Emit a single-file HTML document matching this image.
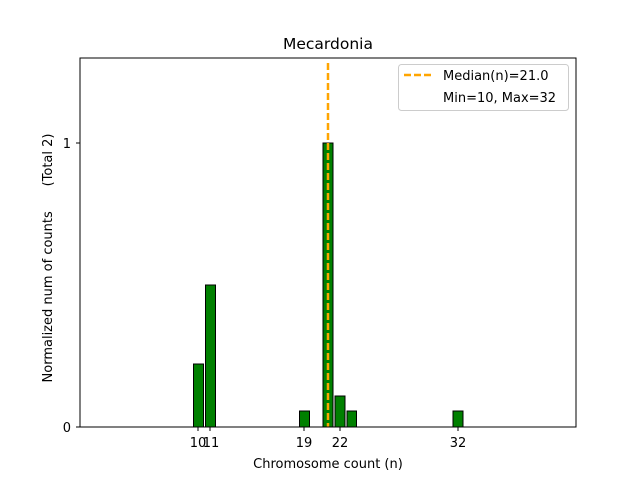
<!DOCTYPE html>
<html><head><meta charset="utf-8"><style>body{margin:0;background:#fff}svg{display:block}text{font-family:"DejaVu Sans","Liberation Sans",sans-serif;fill:#000}</style></head>
<body><svg width="640" height="480" viewBox="0 0 640 480">
<rect width="640" height="480" fill="#fff"/>
<g fill="#008000" stroke="#000" stroke-width="1">
<rect x="193.5" y="364" width="10" height="63"/>
<rect x="205.5" y="285" width="10" height="142"/>
<rect x="299.5" y="411" width="10" height="16"/>
<rect x="323" y="143" width="10" height="284"/>
<rect x="335" y="396" width="10" height="31"/>
<rect x="347" y="411" width="9.5" height="16"/>
<rect x="453" y="411" width="10" height="16"/>
</g>
<line x1="328" y1="63" x2="328" y2="427" stroke="#ffa500" stroke-width="2.5" stroke-dasharray="7,3"/>
<rect x="80" y="58" width="496" height="369" fill="none" stroke="#000" stroke-width="1"/>
<g stroke="#000"><line x1="198" y1="427" x2="198" y2="431"/><line x1="210" y1="427" x2="210" y2="431"/><line x1="304" y1="427" x2="304" y2="431"/><line x1="340" y1="427" x2="340" y2="431"/><line x1="458" y1="427" x2="458" y2="431"/>
<line x1="76" y1="143" x2="80" y2="143"/><line x1="76" y1="427" x2="80" y2="427"/></g>
<g font-size="13" text-anchor="middle">
<text x="198" y="447">10</text><text x="211" y="447">11</text><text x="304" y="447">19</text><text x="340" y="447">22</text><text x="458" y="447">32</text>
<text x="328" y="468">Chromosome count (n)</text>
<text x="328" y="49" font-size="15.5">Mecardonia</text>
</g>
<g font-size="13" text-anchor="end"><text x="71" y="148">1</text><text x="71" y="432">0</text></g>
<text transform="translate(52,258) rotate(-90)" font-size="13" text-anchor="middle" style="white-space:pre" xml:space="preserve">Normalized num of counts      (Total 2)</text>
<rect x="398.5" y="64.5" width="170" height="46" rx="3" fill="#fff" stroke="#ccc"/>
<line x1="404" y1="75" x2="432" y2="75" stroke="#ffa500" stroke-width="2.5" stroke-dasharray="7,3"/>
<g font-size="13"><text x="443" y="80">Median(n)=21.0</text><text x="443" y="102">Min=10, Max=32</text></g>
</svg></body></html>
